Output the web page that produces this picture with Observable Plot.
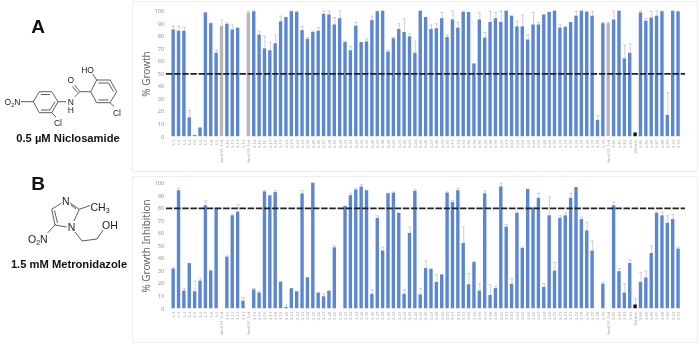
<!DOCTYPE html>
<html><head><meta charset="utf-8">
<script src="https://cdn.jsdelivr.net/npm/d3@7"></script>
<script src="https://cdn.jsdelivr.net/npm/@observablehq/plot@0.6"></script>
<style>
html,body{margin:0;padding:0;background:#fff;width:700px;height:349px;overflow:hidden}
#page{position:relative;width:700px;height:349px;font-family:"Liberation Sans",Arial,sans-serif}
.panel{position:absolute;left:132px;width:566px;box-sizing:border-box;border:1px solid #eeeeee}
.panel svg{position:absolute;left:-1px;top:-1px;filter:blur(.35px);background:transparent}
#chem{position:absolute;left:0;top:0;filter:blur(.25px)}
#chem line,#chem polyline,#chem polygon{stroke:#333;stroke-width:.8;fill:none}
#chem text{fill:#222;font-family:"Liberation Sans",Arial,sans-serif}
#chem .atom{font-size:8.5px;text-anchor:middle}
#chem .atomB{font-size:10.5px}
#chem .big{font-size:19px;font-weight:bold;text-anchor:middle;fill:#111}
#chem .name{font-weight:bold;text-anchor:middle;fill:#111;font-size:11.2px}
</style></head><body>
<div id="page">
<svg id="chem" width="132" height="349" viewBox="0 0 132 349">
  <text class="big" x="38" y="33">A</text>
  <polygon points="33.3,101.7 39.3,91.7 51.7,91.7 58,101.7 51.7,112.7 39.3,112.7"/>
  <line x1="41" y1="94.5" x2="50" y2="94.5"/><line x1="41" y1="110" x2="50" y2="110"/><line x1="55" y1="101.7" x2="50" y2="110"/>
  <line x1="21" y1="101.7" x2="33.3" y2="101.7"/><line x1="51.7" y1="112.7" x2="56" y2="117"/>
  <line x1="58" y1="101.7" x2="66" y2="101.7"/><line x1="74.5" y1="97" x2="80" y2="91.7"/>
  <line x1="80" y1="91.7" x2="90.7" y2="91.7"/><line x1="80" y1="91.7" x2="74.5" y2="85"/><line x1="77.5" y1="92.5" x2="72.5" y2="86.5"/>
  <polygon points="90.7,91.7 96.7,80 110,80 116.7,91.7 110,102.7 96.7,102.7"/>
  <line x1="98.5" y1="83" x2="108.5" y2="83"/><line x1="98.5" y1="100" x2="108.5" y2="100"/><line x1="113.5" y1="91.7" x2="108.5" y2="83"/>
  <line x1="96.7" y1="80" x2="92.5" y2="74"/><line x1="110" y1="102.7" x2="114" y2="106.5"/>
  <text class="atom" x="12.5" y="105">O<tspan font-size="5.5" dy="1.5">2</tspan><tspan dy="-1.5">N</tspan></text>
  <text class="atom" x="58" y="126">Cl</text><text class="atom" x="70.7" y="104.5">N</text><text class="atom" x="70.7" y="113">H</text>
  <text class="atom" x="70.7" y="83">O</text><text class="atom" x="87.5" y="72.5">HO</text><text class="atom" x="117" y="116">Cl</text>
  <text class="name" x="68" y="142">0.5 µM Niclosamide</text>

  <text class="big" x="38" y="190">B</text>
  <line x1="61.5" y1="203" x2="51.7" y2="209.3"/><line x1="70" y1="203" x2="79.3" y2="209.3"/><line x1="79.3" y1="209.3" x2="74" y2="221"/>
  <line x1="76" y1="209" x2="71" y2="205"/>
  <line x1="51.7" y1="209.3" x2="55" y2="225"/><line x1="54.5" y1="210.5" x2="57.5" y2="223"/><line x1="55" y1="225" x2="66.5" y2="227"/>
  <line x1="79.3" y1="209.3" x2="90" y2="205.5"/><line x1="55" y1="225" x2="47.5" y2="233"/>
  <polyline points="75,232 82,241 97,239 103,230"/>
  <text class="atom atomB" x="65.7" y="205">N</text><text class="atom atomB" x="71.5" y="231">N</text>
  <text class="atomB" x="90.5" y="211">CH<tspan font-size="7" dy="1.5">3</tspan></text>
  <text class="atomB" x="102" y="229">OH</text>
  <text class="atomB" x="28" y="243">O<tspan font-size="7" dy="1.5">2</tspan><tspan dy="-1.5">N</tspan></text>
  <text class="name" x="69" y="268">1.5 mM Metronidazole</text>
</svg>
<div class="panel" id="a" style="top:1px;height:171px"></div>
<div class="panel" id="b" style="top:176px;height:167px"></div>
</div>
<script>
const tickLabels = ["3-1","3-2","3-3","3-4","3-5","3-6","3-7","3-8","3-9","Amil 01-1xd","3-10","3-11","3-12","3-13","Amil 01-1xd","3-14","3-15","3-16","3-17","3-18","3-19","3-20","3-21","3-22","3-23","3-24","3-25","3-26","3-27","3-28","3-29","3-30","3-31","3-32","3-33","3-34","3-35","3-36","3-37","3-38","3-39","3-40","3-41","3-42","3-43","3-44","3-45","3-46","3-47","3-48","3-49","3-50","3-51","3-52","3-53","3-54","3-55","3-56","3-57","3-58","3-59","3-60","3-61","3-62","3-63","3-64","3-65","3-66","3-67","3-68","3-69","3-70","3-71","3-72","3-73","3-74","3-75","3-76","3-77","3-78","3-79","Amil 01-1xd","3-80","3-81","3-82","3-83","Vehicle","3-84","3-85","3-86","3-87","3-88","3-89","3-90","3-91"];
const growth = [85,84,84,15,1,7,98.5,90,66.5,88,89.5,85,86.5,0,98.5,99.5,81,70,68.5,74,91.5,95,99.5,99,84.5,77.5,83,84,97.5,97,89,94,75,68.5,88,75,75.5,92.5,99.5,100,67.5,78,85.5,83,79.5,66.5,100,95,85.5,86,94,79,93,86.5,99,99,58,93,78.5,91,94,91,100,96,87.5,87.5,77,89,89,97,99,100,86.5,87,91,96,100,99,96,13,90,90,93,100,62,66.5,3,98.5,92,94.5,96,99.5,17,100,99.5];
const growthTop = [88,88,87,21,1,7,99,90.5,69,93,90.5,89,86.5,0,100,100,84,80,75,81,96,95,100,100,88,79,84,87,100,100,95,100,76,72,91,75,78,96,100,100,69,79,90,94,82,76,100,95,89,90,99,81,100,91,100,99,58,99,83,100,99,100,100,96,92,97,81,99,91,97,99,100,89,88,91,100,100,100,100,17,91,91,100,100,73,74,3,100,94,100,100,100,35,100,99.5];
const inhibition = [31.5,94,14,36,13.5,22,82,30,80,0,41,74,77,6,0,15,12.5,93,90,92.5,21,1,16,13.5,91.5,24.5,100,12.5,9.5,14,48.5,0,81.5,90,94.5,97,94,11.5,72,46,91.5,92,76,11.5,60,93.5,11,32,31.5,21,27,92,84.5,94,52,19,37,14,91.5,10.5,16,97,65,19.5,76,48,95,80,88,17,74,30,72,74,88,96.5,71,62,46,0,19.5,0,82,29.5,12.5,36,3,21,24.5,44,76,74,68,71,47.5];
const inhibitionTop = [33,96,16,36,22,24,86,30.5,80,0,42,75,83,9,0,16,14,94,90,94,21.5,3,16,13.5,94,25,100,12.5,12,14,50,0,81.5,92,96,99,94,15,74,49,92,93,76,15,65,95,16,38,31.5,27,27,93,86,96,65,28,37,20,94,19,18,100,67,24,77,49,95,81,92,20,89,37,74,76,92,96.5,73,69,54,0,21,0,85,32,20,39,8,29,30,50,77,77,74,75,49];
const grayBars = ["Amil 01-1xd"];
const blueColor = "#5b86d2", grayColor = "#b7b7b7", blackColor = "#111111";

function chart({values, tops, threshold, label, marginTop, marginBottom, height}) {
  const rows = values.map((v, i) => ({i, v, top: tops[i], name: tickLabels[i]}));
  const color = d => d.name === "Vehicle" ? blackColor :
    (grayBars.includes(d.name) ? grayColor : blueColor);
  const whiskers = rows.filter(d => d.top > d.v);
  return Plot.plot({
    width: 566, height,
    marginLeft: 34, marginRight: 11, marginTop, marginBottom,
    style: {background: "transparent", overflow: "visible"},
    x: {type: "band", domain: d3.range(values.length), range: [37.6, 551.7], padding: 0.37, align: 0.5},
    y: {domain: [0, 100]},
    marks: [
      Plot.ruleX(whiskers, {x: "i", y1: "v", y2: "top", stroke: "#b0b0b0", strokeWidth: 0.6}),
      Plot.tickY(whiskers, {x: "i", y: "top", stroke: "#b0b0b0", strokeWidth: 0.5}),
      Plot.barY(rows, {x: "i", y: "v", fill: color}),
      Plot.ruleY([threshold], {stroke: "#222", strokeWidth: 1.7, strokeDasharray: "6.5 1.7"}),
      Plot.axisY({ticks: d3.range(0, 101, 10), tickSize: 0, tickPadding: 2, fontSize: 5.8, color: "#999", label: null}),
      Plot.axisX({tickFormat: i => tickLabels[i], tickSize: 0, tickPadding: 3, tickRotate: -90, fontSize: 4.2, color: "#aaa", label: null}),
      Plot.text([label], {frameAnchor: "left", textAnchor: "middle", dx: -20, rotate: -90, fontSize: 10, fill: "#666", text: d => d})
    ]
  });
}
document.getElementById("a").append(chart({values: growth, tops: growthTop, threshold: 50, label: "% Growth", marginTop: 9.7, marginBottom: 35.3, height: 171}));
document.getElementById("b").append(chart({values: inhibition, tops: inhibitionTop, threshold: 80, label: "% Growth Inhibition", marginTop: 6.7, marginBottom: 34.3, height: 167}));
</script>
</body></html>
